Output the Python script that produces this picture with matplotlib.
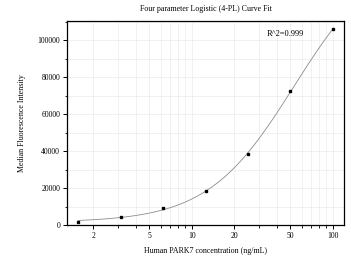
import numpy as np
import matplotlib.pyplot as plt
from matplotlib.ticker import LogLocator, MultipleLocator, FuncFormatter

# standard points
conc = [1.5625, 3.125, 6.25, 12.5, 25, 50, 100]
mfi = [1700, 4300, 9000, 18200, 38600, 72400, 105800]
r2_text = 'R^2=0.999'


def fit_4pl(x, y):
    # crude grid search over slope/EC50, linear solve for bottom/top
    x = np.asarray(x, float)
    y = np.asarray(y, float)
    best = None
    for b in np.linspace(0.8, 2.5, 86):
        for c in np.logspace(1, 3, 200):
            f = (x / c) ** b / (1 + (x / c) ** b)
            A = np.column_stack([1 - f, f])
            coef, *_ = np.linalg.lstsq(A, y, rcond=None)
            err = np.sum((A @ coef - y) ** 2)
            if best is None or err < best[0]:
                best = (err, coef[0], coef[1], b, c)
    return best[1:]


def four_pl(x, lo, hi, b, c):
    f = (x / c) ** b / (1 + (x / c) ** b)
    return lo * (1 - f) + hi * f


if __name__ == '__main__':
    plt.rcParams['font.family'] = ['Liberation Serif', 'DejaVu Serif']

    lo, hi, b, c = fit_4pl(conc, mfi)
    xs = np.logspace(np.log10(conc[0]), np.log10(conc[-1]), 300)

    fig = plt.figure(figsize=(3.51, 2.59), dpi=100)
    ax = fig.add_axes([67 / 351, 34 / 259, 277 / 351, 204 / 259])

    ax.plot(xs, four_pl(xs, lo, hi, b, c), color='#8c8c8c', lw=0.6, zorder=2)
    ax.plot(conc, mfi, 's', color='black', markersize=1.6, zorder=3)

    ax.set_xscale('log')
    ax.set_xlim(1.3, 120)
    ax.set_ylim(0, 110300)
    ax.set_xticks([2, 5, 10, 20, 50, 100])
    ax.xaxis.set_major_formatter(FuncFormatter(lambda v, p: '%g' % v))
    ax.xaxis.set_minor_locator(LogLocator(base=10, subs=np.arange(1, 10)))
    ax.xaxis.set_minor_formatter(FuncFormatter(lambda v, p: ''))
    ax.yaxis.set_major_locator(MultipleLocator(20000))
    ax.yaxis.set_minor_locator(MultipleLocator(10000))

    ax.grid(True, which='both', color='#ececec', lw=0.5, zorder=0)
    ax.tick_params(which='major', direction='out', length=3, width=0.7, labelsize=5.5, pad=2)
    ax.tick_params(which='minor', direction='out', length=1.8, width=0.6)
    for s in ax.spines.values():
        s.set_linewidth(0.9)

    ax.text(0.72, 0.925, r2_text, transform=ax.transAxes, fontsize=6)
    ax.set_title('Four parameter Logistic (4-PL) Curve Fit', fontsize=5.7, pad=7)
    ax.set_xlabel('Human PARK7 concentration (ng/mL)', fontsize=5.7, labelpad=5)
    ax.set_ylabel('Median Fluorescence Intensity', fontsize=5.7, labelpad=8)

    fig.savefig('out.png', dpi=100)
